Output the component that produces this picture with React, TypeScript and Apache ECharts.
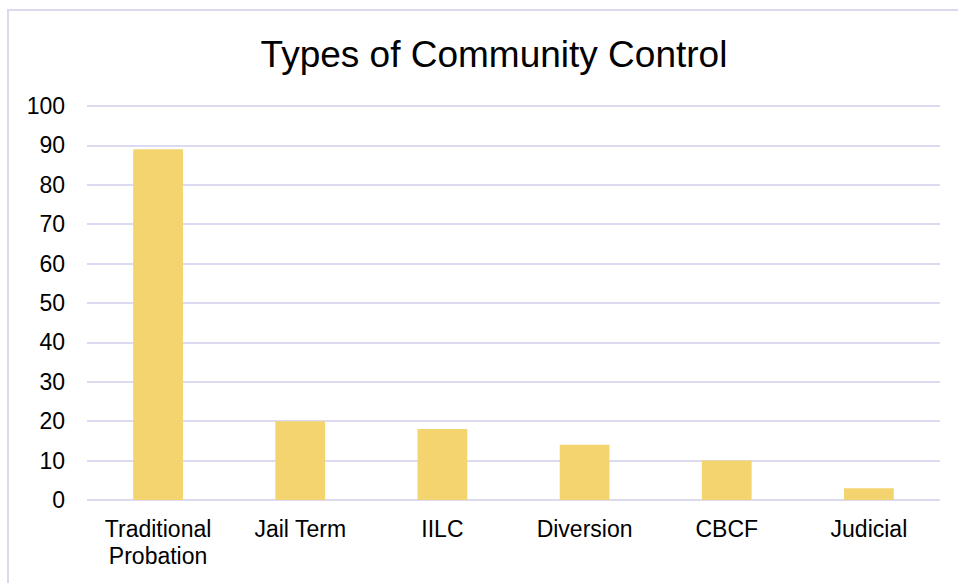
import React, { useEffect, useRef } from "react";
import * as echarts from "echarts";

const categories = ["Traditional\nProbation", "Jail Term", "IILC", "Diversion", "CBCF", "Judicial"];
const values = [89, 20, 18, 14, 10, 3];
const titleText = "Types of Community Control";

export default function App() {
  const ref = useRef<HTMLDivElement>(null);
  useEffect(() => {
    if (!ref.current) return;
    const chart = echarts.init(ref.current, null, { renderer: "svg" });
    chart.setOption({
      animation: false,
      backgroundColor: "#ffffff",
      textStyle: { fontFamily: "Liberation Sans, Arial, sans-serif" },
      title: {
        text: titleText,
        left: 489,
        textAlign: "center",
        top: 31,
        textStyle: { fontSize: 37, fontWeight: "normal", color: "#000000", fontFamily: "Liberation Sans, Arial, sans-serif" },
      },
      graphic: [
        {
          type: "rect",
          shape: { x: 8, y: 10, width: 1200, height: 1200 },
          style: { fill: "none", stroke: "#DCD9EE", lineWidth: 2 },
          silent: true,
        },
      ],
      grid: { left: 87, right: 18, top: 106, bottom: 83, containLabel: false },
      xAxis: {
        type: "category",
        data: categories,
        axisLine: { show: false },
        axisTick: { show: false },
        axisLabel: { color: "#000000", fontSize: 23, margin: 15, lineHeight: 27, interval: 0 },
      },
      yAxis: {
        type: "value",
        min: 0,
        max: 100,
        interval: 10,
        axisLine: { show: false },
        axisTick: { show: false },
        axisLabel: { color: "#000000", fontSize: 23, margin: 22 },
        splitLine: { lineStyle: { color: "#DCDAF0", width: 2 } },
      },
      series: [
        {
          type: "bar",
          data: values,
          barWidth: "35%",
          itemStyle: { color: "#F3D46E" },
        },
      ],
    });
    return () => chart.dispose();
  }, []);
  return (
    <div style={{ position: "fixed", left: 0, top: 0, width: 958, height: 583, background: "#fff" }}>
      <div ref={ref} style={{ width: 958, height: 583 }} />
    </div>
  );
}
